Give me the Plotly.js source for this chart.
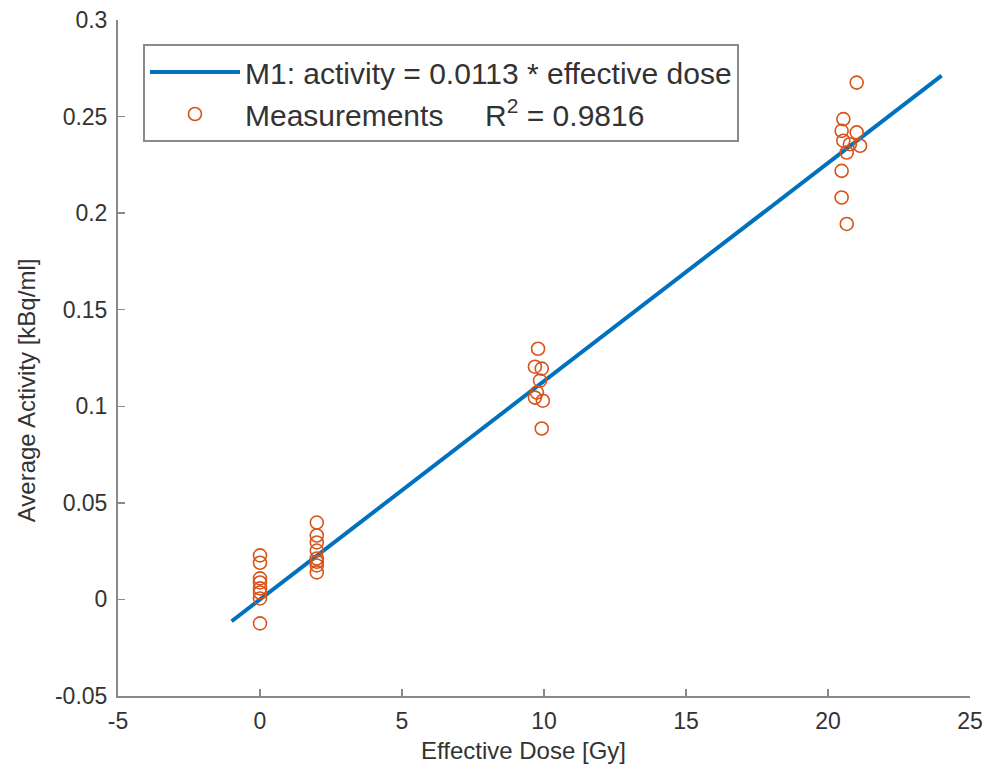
<!DOCTYPE html>
<html>
<head>
<meta charset="utf-8">
<script src="https://cdn.plot.ly/plotly-3.0.1.min.js"></script>
<style>
  html, body { margin: 0; padding: 0; background: #ffffff; }
  #chart { width: 992px; height: 775px; }
</style>
</head>
<body>
<div id="chart"></div>
<script>
// Measured average activity per sample, grouped by delivered dose
const doseMeasured = [
  0, 0, 0, 0, 0, 0, 0, 0,
  2, 2, 2, 2, 2, 2, 2, 2,
  9.79, 9.68, 9.92, 9.86, 9.75, 9.68, 9.96, 9.92,
  21.01, 20.54, 20.48, 21.01, 20.54, 20.77, 21.13, 20.66, 20.48, 20.48, 20.66
];
const activityMeasured = [
  0.0228, 0.0190, 0.0109, 0.0088, 0.0057, 0.0036, 0.0005, -0.0124,
  0.0398, 0.0331, 0.0295, 0.0253, 0.0212, 0.0195, 0.0176, 0.0140,
  0.1298, 0.1205, 0.1195, 0.1133, 0.1071, 0.1045, 0.1029, 0.0885,
  0.2676, 0.2487, 0.2426, 0.2418, 0.2375, 0.2357, 0.2349, 0.2314, 0.2219, 0.2081, 0.1944
];

// Linear model through the origin
const modelSlope = 0.0113;
const modelRange = [-1, 24];
const rSquared = 0.9816;

const xTicks = [-5, 0, 5, 10, 15, 20, 25];
const yTicks = [-0.05, 0, 0.05, 0.1, 0.15, 0.2, 0.25, 0.3];

const xLabel = 'Effective Dose [Gy]';
const yLabel = 'Average Activity [kBq/ml]';

const modelY = modelRange.map(d => modelSlope * d);

const textColor = '#333333';
const axisColor = '#8a8a8a';
const fontFamily = 'Liberation Sans, Arial, sans-serif';

const traces = [
  {
    type: 'scatter',
    mode: 'lines',
    x: modelRange,
    y: modelY,
    name: 'M1: activity = ' + modelSlope.toFixed(4) + ' * effective dose',
    line: { color: '#0072BD', width: 4 },
    legendgroup: 'model',
    hoverinfo: 'skip'
  },
  {
    type: 'scatter',
    mode: 'markers',
    x: doseMeasured,
    y: activityMeasured,
    name: 'Measurements\u00A0\u00A0\u00A0\u00A0\u00A0R<sup>2</sup> = ' + rSquared.toFixed(4),
    marker: {
      symbol: 'circle-open',
      size: 13,
      color: '#D95319',
      line: { width: 1.6, color: '#D95319' }
    },
    legendgroup: 'meas'
  }
];

const axisCommon = {
  showgrid: false,
  zeroline: false,
  showline: true,
  linecolor: axisColor,
  linewidth: 2,
  ticks: 'inside',
  ticklen: 7,
  tickwidth: 1.5,
  tickcolor: axisColor,
  tickfont: { family: fontFamily, size: 23, color: textColor },
  mirror: false,
  automargin: false
};

const titleFont = { family: fontFamily, size: 24, color: textColor };

const layout = {
  width: 992,
  height: 775,
  paper_bgcolor: '#ffffff',
  plot_bgcolor: '#ffffff',
  margin: { l: 118, r: 22, t: 20, b: 79 },
  showlegend: true,
  xaxis: Object.assign({}, axisCommon, {
    range: [-5, 25],
    tickvals: xTicks,
    ticktext: xTicks.map(String),
    ticklabelstandoff: 3
  }),
  yaxis: Object.assign({}, axisCommon, {
    range: [-0.05, 0.3],
    tickvals: yTicks,
    ticktext: yTicks.map(v => String(v)),
    ticklabelstandoff: 4
  }),
  // axis titles placed as text labels beside the axes
  annotations: [
    {
      text: xLabel,
      xref: 'paper', yref: 'paper',
      x: 0.4765, y: -0.080,
      xanchor: 'center', yanchor: 'middle',
      showarrow: false,
      font: titleFont
    },
    {
      text: yLabel,
      xref: 'paper', yref: 'paper',
      x: -0.107, y: 0.452,
      xanchor: 'center', yanchor: 'middle',
      textangle: -90,
      showarrow: false,
      font: titleFont
    }
  ],
  legend: {
    x: 0.0293,
    y: 0.9645,
    xanchor: 'left',
    yanchor: 'top',
    bgcolor: '#ffffff',
    bordercolor: axisColor,
    borderwidth: 2,
    font: { family: fontFamily, size: 30, color: textColor },
    traceorder: 'grouped',
    tracegroupgap: 0,
    itemwidth: 90
  }
};

Plotly.newPlot('chart', traces, layout, { displayModeBar: false, staticPlot: true });
</script>
</body>
</html>
